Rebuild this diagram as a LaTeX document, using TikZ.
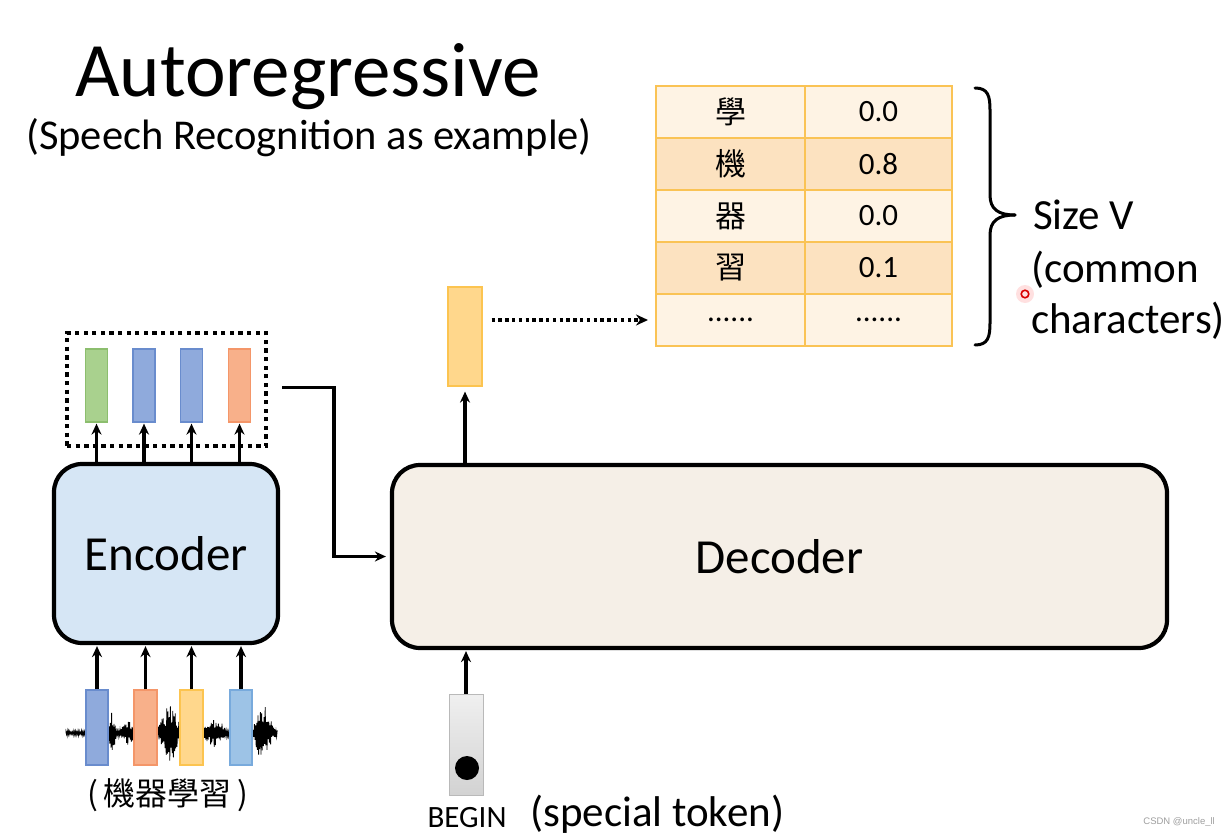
\documentclass[tikz,border=0pt]{standalone}
\usepackage{fontspec}
\setmainfont{Carlito}
\newfontfamily\cjk{Noto Sans CJK TC}
\newfontfamily\wmfont{Liberation Sans}
\usetikzlibrary{arrows.meta,calc}
\newcommand\mysixdots{......}
\definecolor{tlight}{RGB}{254,243,228}
\definecolor{tdark}{RGB}{252,226,192}
\definecolor{tborder}{RGB}{250,195,85}
\definecolor{vgreen}{RGB}{169,209,142}
\definecolor{vgreenb}{RGB}{140,190,110}
\definecolor{vblue}{RGB}{143,170,220}
\definecolor{vblueb}{RGB}{105,140,205}
\definecolor{vlblue}{RGB}{157,195,230}
\definecolor{vlblueb}{RGB}{120,170,220}
\definecolor{vorange}{RGB}{248,176,138}
\definecolor{vorangeb}{RGB}{244,150,105}
\definecolor{vyellow}{RGB}{255,215,140}
\definecolor{vyellowb}{RGB}{252,196,80}
\definecolor{encfill}{RGB}{214,230,245}
\definecolor{decfill}{RGB}{245,239,231}
\begin{document}
\begin{tikzpicture}[x=1pt,y=-1pt,
  vec/.style={draw, line width=1.2pt, minimum width=22, minimum height=73, inner sep=0},
  cell/.style={draw=tborder, line width=2pt, inner sep=0, font=\fontsize{31}{34}\selectfont},
  block/.style={draw, line width=4.2pt, rounded corners=28, inner sep=0, font=\fontsize{49}{54}\selectfont},
  arr/.style={line width=3.8pt, -{Stealth[length=11pt,width=10pt]}},
  dotarr/.style={line width=3.4pt, dash pattern=on 3.4pt off 3.4pt, -{Stealth[length=12pt,width=11pt]}},
  dotbox/.style={draw, line width=4.5pt, dash pattern=on 4.3pt off 4.3pt, inner sep=0},
  bigtext/.style={font=\fontsize{43}{48}\selectfont}
]
\useasboundingbox (0,0) rectangle (1230,837);
\fill[white] (0,0) rectangle (1230,837);

% titles
\node[anchor=base west, inner sep=0, font=\fontsize{77}{82}\selectfont] (title) at (75,97) {Autoregressive};
\node[anchor=base west, inner sep=0, font=\fontsize{42.5}{46}\selectfont] (sub) at (26,150) {(Speech Recognition as example)};

% table
\foreach \i/\a/\b/\c in {0/學/0.0/tlight,1/機/0.8/tdark,2/器/0.0/tlight,3/習/0.1/tdark,4/\mysixdots/\mysixdots/tlight}{
  \node[cell, fill=\c, minimum width=149, minimum height=52] (a\i) at (730.5,{112+52*\i}) {\ifnum\i<4 \cjk\fi\a};
  \node[cell, fill=\c, minimum width=147, minimum height=52] (b\i) at (878.5,{112+52*\i}) {\b};
}

% brace
\draw[line width=3pt, line cap=round] (975,88) .. controls (988,88) and (990,96) .. (990,110) -- (990,195)
  .. controls (990,209) and (998,215) .. (1015,215);
\draw[line width=3pt, line cap=round] (1015,215) .. controls (998,215) and (990,221) .. (990,235) -- (990,323)
  .. controls (990,337) and (988,345) .. (975,345);
\node[anchor=base west, inner sep=0, bigtext] (sizev) at (1033,229) {Size V};
\node[anchor=base west, inner sep=0, bigtext] (common) at (1031,282) {(common};
\node[anchor=base west, inner sep=0, bigtext] (chars) at (1031,333) {characters)};

% pointer dot
\fill[red, opacity=0.12] (1025,294) circle (9);
\draw[red!85!black, line width=1.6pt] (1025,294) circle (3.8);

% output vector
\node[vec, fill=vyellow, draw=vyellowb, minimum width=34, minimum height=99] (out) at (465,336.5) {};
\path (out.east) ++(9,0) coordinate (dstart);
\draw[dotarr] (dstart |- a4.west) -- ($(a4.west)+(-7,0)$);

% encoder and decoder
\node[block, fill=encfill, minimum width=224, minimum height=179] (enc) at (166,553.5) {Encoder};
\node[block, fill=decfill, minimum width=775, minimum height=183] (dec) at (779.5,556.5) {Decoder};

\draw[arr, shorten >=5pt] (out |- dec.north) -- (out.south);

% encoder outputs
\node[vec, fill=vgreen, draw=vgreenb] (e1) at (96.5,385.5) {};
\node[vec, fill=vblue, draw=vblueb] (e2) at (144,385.5) {};
\node[vec, fill=vblue, draw=vblueb] (e3) at (191.5,385.5) {};
\node[vec, fill=vorange, draw=vorangeb] (e4) at (239.5,385.5) {};
\node[dotbox, minimum width=199, minimum height=113] (box) at (166.5,389.5) {};
\foreach \k in {1,...,4}{
  \draw[arr, shorten >=1pt] (e\k |- enc.north) -- (e\k.south);
}
\path (box.east) ++(14,-2) coordinate (cstart);
\draw[arr, shorten >=4pt] (cstart) -| ($(dec.west)+(-56,0)$) -- (dec.west);

% waveform
\pgfmathsetseed{7}
\draw[line width=0.8pt] (66,733) \foreach \i in {0,...,352}{
  -- ({66+\i*0.6}, {733+(2*mod(\i,2)-1)*(2.5+22*exp(-((66+\i*0.6-112)/3)^2)+9*exp(-((66+\i*0.6-128)/6)^2)
     +26*exp(-((66+\i*0.6-170)/9)^2)+14*exp(-((66+\i*0.6-215)/9)^2)+26*exp(-((66+\i*0.6-263)/8)^2))*(0.3+0.7*rnd)})
};

% input vectors
\node[vec, fill=vblue, draw=vblueb, minimum height=75] (i1) at (97,727.5) {};
\node[vec, fill=vorange, draw=vorangeb, minimum height=75, minimum width=23] (i2) at (145.5,727.5) {};
\node[vec, fill=vyellow, draw=vyellowb, minimum height=75, minimum width=23] (i3) at (191.5,727.5) {};
\node[vec, fill=vlblue, draw=vlblueb, minimum height=75] (i4) at (241,727.5) {};
\foreach \k in {1,...,4}{
  \draw[arr, shorten >=1pt] (i\k.north) -- (i\k |- enc.south);
}
\node[inner sep=0, font=\cjk\fontsize{32}{35}\selectfont] (inlabel) at (168,795) {(\,機器學習\,)};

% BEGIN token
\shade[top color=gray!12, bottom color=gray!35] (449,694) rectangle (483,795);
\node[draw=gray!55, line width=1pt, minimum width=34, minimum height=101, inner sep=0] (beg) at (466,744.5) {};
\node[circle, fill=black, minimum size=24, inner sep=0] (tok) at (467,768) {};
\draw[arr, shorten >=1pt] (beg.north) -- (beg |- dec.south);
\node[anchor=base, inner sep=0, font=\fontsize{31}{34}\selectfont] (begin) at (467,827) {BEGIN};
\node[anchor=base west, inner sep=0, bigtext] (special) at (530,826) {(special token)};

% watermark
\node[anchor=base east, inner sep=0, text=gray!75, font=\wmfont\fontsize{9.5}{11}\selectfont] (wm) at (1215,824) {CSDN @uncle\_ll};
\end{tikzpicture}
\end{document}
